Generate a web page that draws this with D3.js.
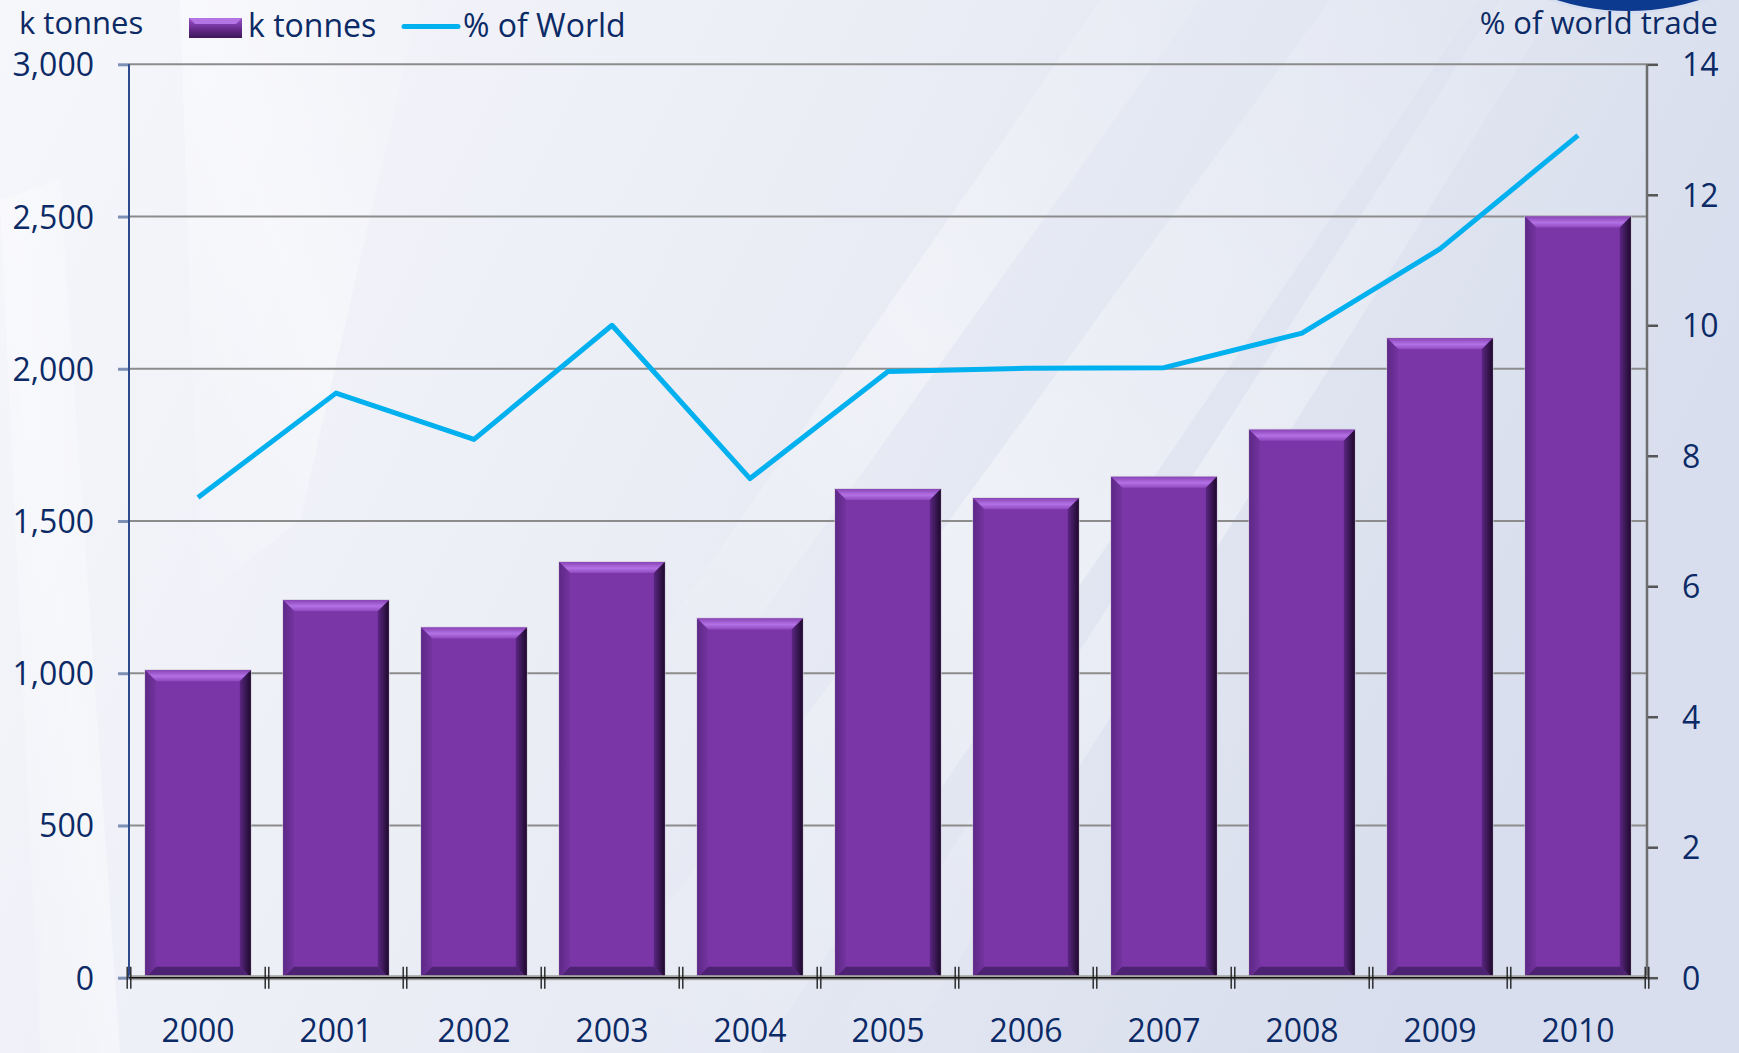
<!DOCTYPE html>
<html>
<head>
<meta charset="utf-8">
<script src="https://cdn.jsdelivr.net/npm/d3@7"></script>
<style>
  html, body { margin: 0; padding: 0; overflow: hidden; background: #eef0f7; }
  svg { display: block; }
  text { font-family: "Open Sans", "Noto Sans", sans-serif; fill: #0b2a66; }
</style>
</head>
<body>
<script>
// ---- data ----
const years = ["2000","2001","2002","2003","2004","2005","2006","2007","2008","2009","2010"];
const kTonnes = [1010, 1240, 1150, 1365, 1180, 1605, 1575, 1645, 1800, 2100, 2500];
const pctWorld = [7.36, 8.96, 8.25, 10.0, 7.65, 9.29, 9.34, 9.35, 9.88, 11.17, 12.91];
const leftTicks = [0, 500, 1000, 1500, 2000, 2500, 3000];
const rightTicks = [0, 2, 4, 6, 8, 10, 12, 14];
const leftTitle = "k tonnes";
const rightTitle = "% of world trade";
const barLegend = "k tonnes";
const lineLegend = "% of World";

const W = 1739, H = 1053;
const plot = { left: 129, right: 1647, top: 64.3, bottom: 977.7 };

const svg = d3.select("body").append("svg").attr("width", W).attr("height", H);
const defs = svg.append("defs");

// background
const bg = defs.append("linearGradient").attr("id", "bg").attr("x1", 0).attr("y1", 0).attr("x2", 1).attr("y2", 0.3);
bg.append("stop").attr("offset", "0%").attr("stop-color", "#f6f7fb");
bg.append("stop").attr("offset", "45%").attr("stop-color", "#eceef6");
bg.append("stop").attr("offset", "100%").attr("stop-color", "#d8deed");
svg.append("rect").attr("width", W).attr("height", H).attr("fill", "url(#bg)");

const beam = defs.append("linearGradient").attr("id", "beam").attr("x1", 0).attr("y1", 1).attr("x2", 1).attr("y2", 0);
beam.append("stop").attr("offset", "0%").attr("stop-color", "#ffffff").attr("stop-opacity", 0.0);
beam.append("stop").attr("offset", "50%").attr("stop-color", "#ffffff").attr("stop-opacity", 0.55);
beam.append("stop").attr("offset", "100%").attr("stop-color", "#ffffff").attr("stop-opacity", 0.1);
const beams = [
  [[560,1053],[760,1053],[1480,0],[1330,0]],
  [[820,1053],[900,1053],[1560,0],[1500,0]],
  [[0,200],[60,180],[120,1053],[40,1053]],
  [[180,0],[420,0],[300,520],[200,600]],
  [[1100,0],[1200,0],[700,700],[650,650]]
];
svg.selectAll("polygon.beam").data(beams).join("polygon").attr("class", "beam")
  .attr("points", d => d.map(p => p.join(",")).join(" "))
  .attr("fill", "url(#beam)").attr("opacity", 0.7);

// logo circle top-right
svg.append("circle").attr("cx", 1628).attr("cy", -226).attr("r", 240).attr("fill", "#d6ddef").attr("opacity", 0.9);
svg.append("circle").attr("cx", 1628).attr("cy", -226).attr("r", 237).attr("fill", "#0c3a8e");

// scales
const x = d3.scaleBand().domain(years).range([plot.left, plot.right]).paddingInner(0.235).paddingOuter(0.1175);
const y = d3.scaleLinear().domain([0, 3000]).range([plot.bottom, plot.top]);
const y2 = d3.scaleLinear().domain([0, 14]).range([plot.bottom, plot.top]);

// gridlines
svg.append("g").selectAll("line").data(leftTicks.filter(v => v > 0)).join("line")
  .attr("x1", plot.left).attr("x2", plot.right)
  .attr("y1", d => y(d)).attr("y2", d => y(d))
  .attr("stroke", "#8c8c8c").attr("stroke-width", 2);

// bar gradients
const topG = defs.append("linearGradient").attr("id", "topBevel").attr("x1", 0).attr("y1", 0).attr("x2", 0).attr("y2", 1);
topG.append("stop").attr("offset", "0%").attr("stop-color", "#8a45b8");
topG.append("stop").attr("offset", "55%").attr("stop-color", "#b271e4");
topG.append("stop").attr("offset", "100%").attr("stop-color", "#8e48bd");
const rightG = defs.append("linearGradient").attr("id", "rightBevel").attr("x1", 0).attr("y1", 0).attr("x2", 1).attr("y2", 0);
rightG.append("stop").attr("offset", "0%").attr("stop-color", "#5a2682");
rightG.append("stop").attr("offset", "100%").attr("stop-color", "#1e0a2c");
const leftG = defs.append("linearGradient").attr("id", "leftBevel").attr("x1", 0).attr("y1", 0).attr("x2", 1).attr("y2", 0);
leftG.append("stop").attr("offset", "0%").attr("stop-color", "#5d2886");
leftG.append("stop").attr("offset", "100%").attr("stop-color", "#7434a0");

const bev = 11;
const bars = svg.append("g").selectAll("g").data(years.map((yr, i) => ({ yr, v: kTonnes[i] }))).join("g");
bars.append("rect")
  .attr("x", d => x(d.yr) - 1).attr("y", d => y(d.v) - 1)
  .attr("width", x.bandwidth() + 2).attr("height", d => y(0) - y(d.v) + 1)
  .attr("fill", "#c8c4cf").attr("opacity", 0.6);
bars.append("rect")
  .attr("x", d => x(d.yr)).attr("y", d => y(d.v))
  .attr("width", x.bandwidth()).attr("height", d => y(0) - y(d.v))
  .attr("fill", "#7a36a7");
bars.append("polygon")
  .attr("points", d => {
    const x0 = x(d.yr), x1 = x0 + x.bandwidth(), t = y(d.v);
    return [[x0, t], [x1, t], [x1 - bev, t + bev], [x0 + bev, t + bev]].map(p => p.join(",")).join(" ");
  }).attr("fill", "url(#topBevel)");
bars.append("polygon")
  .attr("points", d => {
    const x0 = x(d.yr), x1 = x0 + x.bandwidth(), t = y(d.v), b = y(0);
    return [[x1, t], [x1, b], [x1 - bev, b - bev], [x1 - bev, t + bev]].map(p => p.join(",")).join(" ");
  }).attr("fill", "url(#rightBevel)");
bars.append("polygon")
  .attr("points", d => {
    const x0 = x(d.yr), t = y(d.v), b = y(0);
    return [[x0, t], [x0 + bev, t + bev], [x0 + bev, b - bev], [x0, b]].map(p => p.join(",")).join(" ");
  }).attr("fill", "url(#leftBevel)");
bars.append("polygon")
  .attr("points", d => {
    const x0 = x(d.yr), x1 = x0 + x.bandwidth(), b = y(0);
    return [[x0, b], [x0 + bev, b - bev], [x1 - bev, b - bev], [x1, b]].map(p => p.join(",")).join(" ");
  }).attr("fill", "#4e2272");

// left axis
const gl = svg.append("g").attr("transform", `translate(${plot.left},0)`)
  .call(d3.axisLeft(y).tickValues(leftTicks).tickFormat(d3.format(",")).tickSize(11).tickPadding(24));
gl.select(".domain").remove();
gl.selectAll(".tick line").attr("stroke", "#7d8fb5").attr("stroke-width", 3);
gl.selectAll(".tick text").style("font-size", "32px").attr("fill", "#0b2a66").attr("dy", "0.36em");
svg.append("line").attr("x1", plot.left).attr("x2", plot.left).attr("y1", plot.top).attr("y2", plot.bottom)
  .attr("stroke", "#2d4a8c").attr("stroke-width", 2);

// right axis
const gr = svg.append("g").attr("transform", `translate(${plot.right},0)`)
  .call(d3.axisRight(y2).tickValues(rightTicks).tickSize(11).tickPadding(24));
gr.select(".domain").remove();
gr.selectAll(".tick line").attr("stroke", "#555").attr("stroke-width", 2.5);
gr.selectAll(".tick text").style("font-size", "32px").attr("fill", "#0b2a66").attr("dy", "0.36em");
svg.append("line").attr("x1", plot.right).attr("x2", plot.right).attr("y1", plot.top).attr("y2", plot.bottom)
  .attr("stroke", "#6e6e6e").attr("stroke-width", 2.5);

// x axis baseline
svg.append("rect").attr("x", plot.left).attr("y", plot.bottom - 2.5).attr("width", plot.right - plot.left).attr("height", 5)
  .attr("fill", "#a6a6a6");
svg.append("line").attr("x1", plot.left).attr("x2", plot.right).attr("y1", plot.bottom).attr("y2", plot.bottom)
  .attr("stroke", "#111").attr("stroke-width", 1.5);
// double tick marks at band boundaries
const bounds = d3.range(years.length + 1).map(i => x.range()[0] + i * x.step());
const tk = svg.append("g").selectAll("g").data(bounds).join("g");
[-1.8, 1.8].forEach(off => {
  tk.append("line").attr("x1", d => d + off).attr("x2", d => d + off)
    .attr("y1", plot.bottom - 11).attr("y2", plot.bottom + 11)
    .attr("stroke", "#222").attr("stroke-width", 1.4);
});

const gx = svg.append("g").attr("transform", `translate(0,${plot.bottom})`)
  .call(d3.axisBottom(x).tickSize(0).tickPadding(42));
gx.select(".domain").remove();
gx.selectAll(".tick text").style("font-size", "32px").attr("fill", "#0b2a66");

// line series
const line = d3.line().x((d, i) => x(years[i]) + x.bandwidth() / 2).y(d => y2(d));
svg.append("path").datum(pctWorld).attr("d", line)
  .attr("fill", "none").attr("stroke", "#00b0ef").attr("stroke-width", 5).attr("stroke-linejoin", "round");

// titles
svg.append("text").attr("x", 19).attr("y", 34).style("font-size", "31px").text(leftTitle);
svg.append("text").attr("x", 1718).attr("y", 34).attr("text-anchor", "end").style("font-size", "31px").text(rightTitle);

// legend
const lgG = defs.append("linearGradient").attr("id", "legBar").attr("x1", 0).attr("y1", 0).attr("x2", 0).attr("y2", 1);
lgG.append("stop").attr("offset", "0%").attr("stop-color", "#9b55cc");
lgG.append("stop").attr("offset", "50%").attr("stop-color", "#6b2e92");
lgG.append("stop").attr("offset", "100%").attr("stop-color", "#3d1a58");
svg.append("rect").attr("x", 189).attr("y", 18).attr("width", 53).attr("height", 20).attr("fill", "url(#legBar)");
svg.append("polygon").attr("points", "189,18 242,18 236,24 195,24").attr("fill", "#b375e4");
svg.append("text").attr("x", 248).attr("y", 37).style("font-size", "32px").text(barLegend);
svg.append("line").attr("x1", 404).attr("x2", 458).attr("y1", 26.5).attr("y2", 26.5)
  .attr("stroke", "#00b0ef").attr("stroke-width", 5).attr("stroke-linecap", "round");
svg.append("text").attr("x", 463).attr("y", 37).style("font-size", "32px").text(lineLegend);
</script>
</body>
</html>
